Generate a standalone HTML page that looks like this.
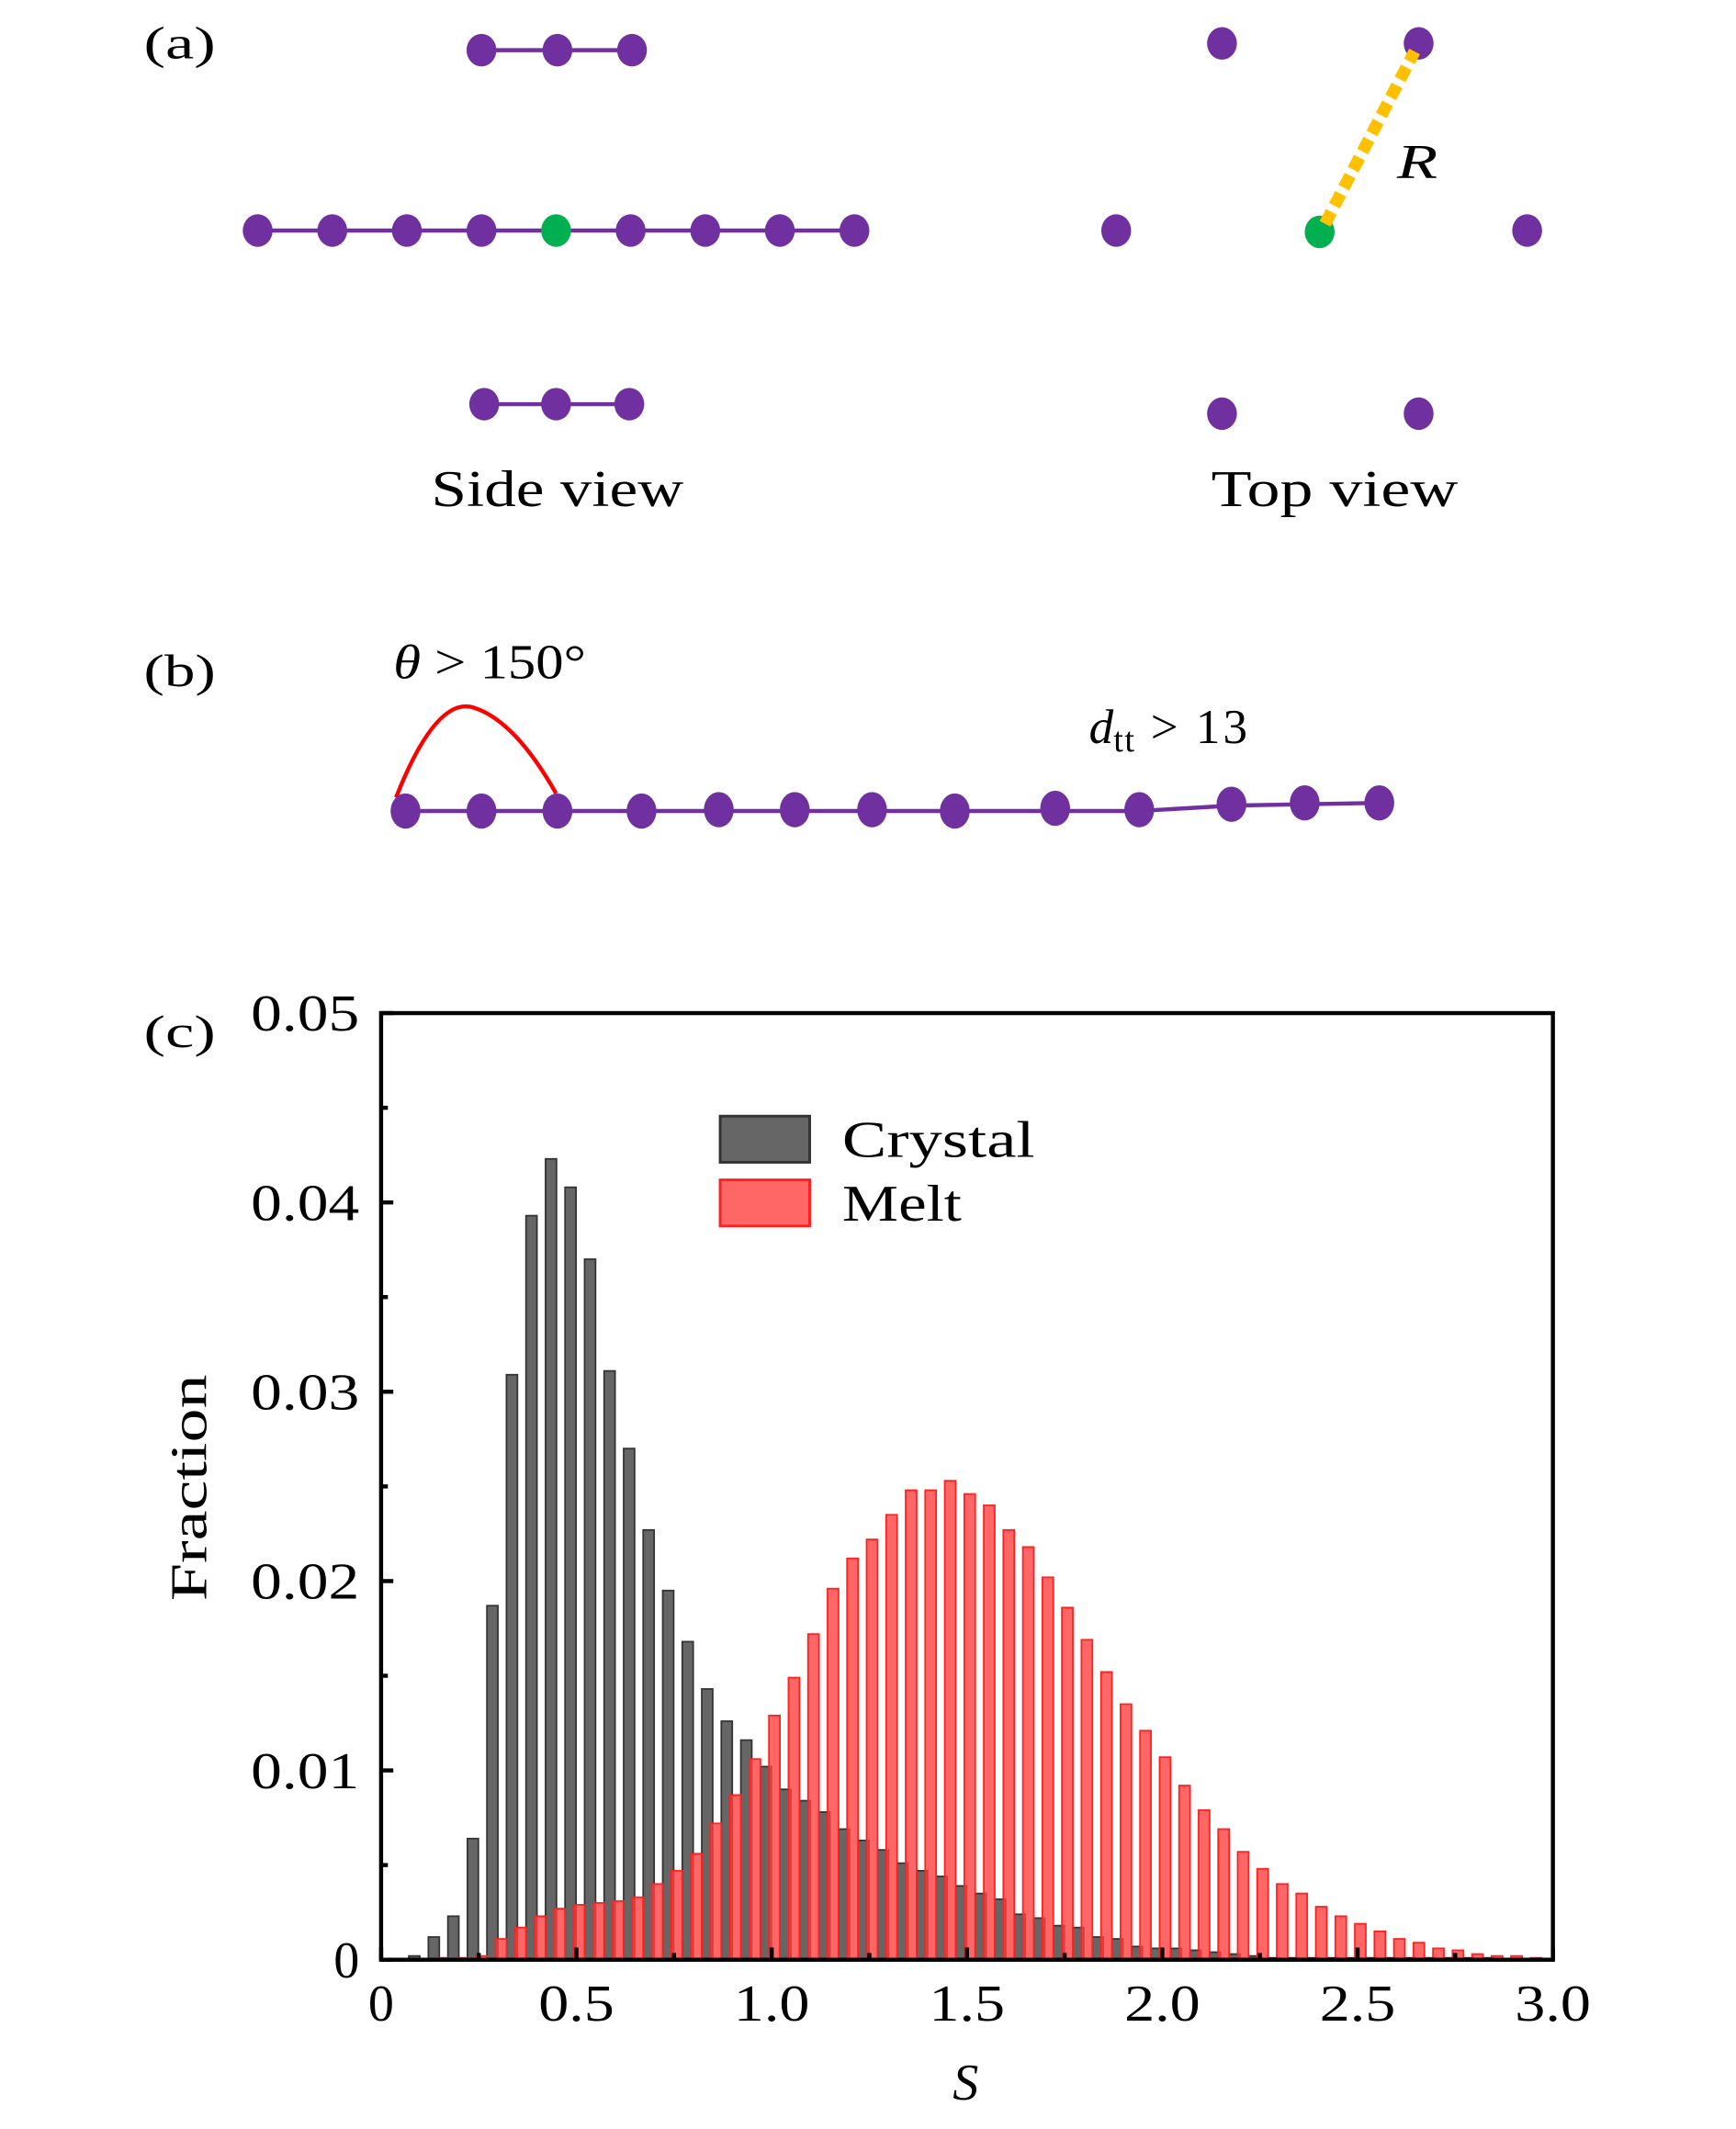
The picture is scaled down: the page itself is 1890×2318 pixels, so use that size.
<!DOCTYPE html>
<html><head><meta charset="utf-8"><style>
html,body{margin:0;padding:0;background:#fff;}
svg{display:block;}
text{font-family:"Liberation Serif",serif;fill:#000;}
</style></head><body>
<svg id="fig" width="1890" height="2318" viewBox="0 0 1280 1569.8" preserveAspectRatio="none" xmlns="http://www.w3.org/2000/svg">
<g>
<text x="106" y="43" font-size="34" textLength="53" lengthAdjust="spacingAndGlyphs">(a)</text>
<g fill="#7030a0" stroke="#7030a0">
<line x1="355" y1="37" x2="466" y2="37" stroke-width="3"/>
<line x1="190" y1="170" x2="630" y2="170" stroke-width="3"/>
<line x1="357" y1="298" x2="464" y2="298" stroke-width="3"/>
<g stroke="none">
<ellipse cx="355" cy="37" rx="11" ry="12"/><ellipse cx="411" cy="37" rx="11" ry="12"/><ellipse cx="466" cy="37" rx="11" ry="12"/>
<ellipse cx="190" cy="170" rx="11" ry="12"/><ellipse cx="245" cy="170" rx="11" ry="12"/><ellipse cx="300" cy="170" rx="11" ry="12"/><ellipse cx="355" cy="170" rx="11" ry="12"/><ellipse cx="410" cy="170" rx="11" ry="12" fill="#00b050"/><ellipse cx="465" cy="170" rx="11" ry="12"/><ellipse cx="520" cy="170" rx="11" ry="12"/><ellipse cx="575" cy="170" rx="11" ry="12"/><ellipse cx="630" cy="170" rx="11" ry="12"/>
<ellipse cx="357" cy="298" rx="11" ry="12"/><ellipse cx="410" cy="298" rx="11" ry="12"/><ellipse cx="464" cy="298" rx="11" ry="12"/>
</g></g>
<text x="318" y="373" font-size="38" textLength="186" lengthAdjust="spacingAndGlyphs">Side view</text>
<g fill="#7030a0">
<ellipse cx="901" cy="32" rx="11" ry="12"/><ellipse cx="1046" cy="32" rx="11" ry="12"/>
<ellipse cx="823" cy="170" rx="11" ry="12"/><ellipse cx="1126" cy="170" rx="11" ry="12"/>
<ellipse cx="973" cy="171" rx="11" ry="12" fill="#00b050"/>
<ellipse cx="901" cy="305" rx="11" ry="12"/><ellipse cx="1046" cy="305" rx="11" ry="12"/>
<line x1="977" y1="165" x2="1043" y2="38" stroke="#ffc000" stroke-width="9" stroke-dasharray="10,5"/>
</g>
<text x="1030" y="131" font-size="36" font-style="italic" textLength="30" lengthAdjust="spacingAndGlyphs">R</text>
<text x="893" y="373" font-size="38" textLength="182" lengthAdjust="spacingAndGlyphs">Top view</text>
</g>
<g>
<text x="106" y="506" font-size="34" textLength="53" lengthAdjust="spacingAndGlyphs">(b)</text>
<text x="290" y="500" font-size="36" textLength="142" lengthAdjust="spacingAndGlyphs"><tspan font-style="italic">θ</tspan> &gt; 150°</text>
<path d="M292,588 Q322,512 350,522 Q380,532 410,585" fill="none" stroke="#ff0000" stroke-width="3"/>
<text x="803" y="548" font-size="36"><tspan font-style="italic">d</tspan><tspan font-size="26" dy="6" letter-spacing="1">tt</tspan><tspan dy="-6" letter-spacing="2"> &gt; 13</tspan></text>
<g fill="#7030a0">
<polyline points="299,598 840,598 908,594 1017,592" fill="none" stroke="#7030a0" stroke-width="3"/>
<ellipse cx="299" cy="598" rx="11" ry="13"/><ellipse cx="355" cy="598" rx="11" ry="13"/><ellipse cx="411" cy="598" rx="11" ry="13"/><ellipse cx="473" cy="598" rx="11" ry="13"/><ellipse cx="530" cy="597" rx="11" ry="13"/><ellipse cx="586" cy="597" rx="11" ry="13"/><ellipse cx="643" cy="597" rx="11" ry="13"/><ellipse cx="704" cy="598" rx="11" ry="13"/><ellipse cx="778" cy="596" rx="11" ry="13"/><ellipse cx="840" cy="597" rx="11" ry="13"/><ellipse cx="908" cy="593" rx="11" ry="13"/><ellipse cx="962" cy="592" rx="11" ry="13"/><ellipse cx="1017" cy="592" rx="11" ry="13"/>
</g>
</g>
<g>
<text x="106" y="772" font-size="34" textLength="53" lengthAdjust="spacingAndGlyphs">(c)</text>
<g id="bars"></g>
<g id="axes"></g>
<text x="0" y="0" font-size="38" text-anchor="middle" textLength="167" lengthAdjust="spacingAndGlyphs" transform="translate(152,1097) rotate(-90)">Fraction</text>
<text x="712" y="1548" font-size="38" font-style="italic" text-anchor="middle">S</text>
<g>
<rect x="531" y="823" width="66" height="34" fill="#666" stroke="#333" stroke-width="2"/>
<text x="621" y="853" font-size="38" textLength="142" lengthAdjust="spacingAndGlyphs">Crystal</text>
<rect x="531" y="870" width="66" height="34" fill="#ff6666" stroke="#ff2020" stroke-width="2"/>
<text x="621" y="900" font-size="38" textLength="88" lengthAdjust="spacingAndGlyphs">Melt</text>
</g>
</g>
</svg>
<script>
const crystalStart = 0.085;
const meltStart = 0.107;
const binWidth = 0.05;
const crystalValues = [0.0002,0.0012,0.0023,0.0064,0.0187,0.0309,0.0393,0.0423,0.0408,0.0370,0.0311,0.0270,0.0227,0.0195,0.0168,0.0143,0.0126,0.0116,0.0102,0.0090,0.0084,0.0078,0.0069,0.0063,0.0058,0.0051,0.0047,0.0044,0.0039,0.0035,0.0032,0.0024,0.0022,0.0018,0.0017,0.0012,0.0011,0.0007,0.0006,0.0006,0.0005,0.0004,0.0003,0.0002,0.0001,0.0001,0.0001,0.0001,0.0001,0.0001,0.0001,0.0001,0.0001,0.0001,0.0001,0.0001];
const meltValues = [0,0.0001,0.0001,0.0002,0.0011,0.0017,0.0023,0.0027,0.0029,0.0030,0.0031,0.0033,0.0040,0.0047,0.0056,0.0072,0.0087,0.0106,0.0129,0.0149,0.0172,0.0196,0.0212,0.0222,0.0235,0.0248,0.0248,0.0253,0.0246,0.0240,0.0227,0.0218,0.0202,0.0186,0.0169,0.0152,0.0135,0.0121,0.0107,0.0092,0.0079,0.0069,0.0057,0.0048,0.0040,0.0035,0.0028,0.0023,0.0019,0.0015,0.0011,0.0009,0.0006,0.0005,0.0003,0.0002,0.0002,0.0001];
const xTickLabels = ["0","0.5","1.0","1.5","2.0","2.5","3.0"];
const xTickValues = [0,0.5,1.0,1.5,2.0,2.5,3.0];
const yTickLabels = ["0","0.01","0.02","0.03","0.04","0.05"];
const yTickValues = [0,0.01,0.02,0.03,0.04,0.05];

const NS = "http://www.w3.org/2000/svg";
const X0=281, X1=1145, Y0=1445, Y1=747;
function xs(v){return X0+(X1-X0)*v/3;}
function ys(v){return Y0-(Y0-Y1)*v/0.05;}
function mk(tag, attrs, parent){const e=document.createElementNS(NS,tag);for(const k in attrs)e.setAttribute(k,attrs[k]);parent.appendChild(e);return e;}
const bars=document.getElementById('bars'), axes=document.getElementById('axes');
const bw=(xs(0.028)-xs(0));
crystalValues.forEach((v,i)=>{
  const c=crystalStart+i*binWidth;
  const r=mk('rect',{x:xs(c)-bw/2,y:ys(v),width:bw,height:Y0-ys(v),fill:'#666',stroke:'#333','stroke-width':1.2},bars);
  
  
});
meltValues.forEach((v,i)=>{
  const c=meltStart+i*binWidth;
  if(c>3.02) return;
  const r=mk('rect',{x:xs(c)-bw/2,y:ys(v),width:bw,height:Y0-ys(v),fill:'#ff4040','fill-opacity':0.8,stroke:'#ff2020','stroke-width':1.2},bars);
  
  
});
const frame=mk('rect',{x:X0,y:Y1,width:X1-X0,height:Y0-Y1,fill:'none',stroke:'#000','stroke-width':3},axes);


for(let i=0;i<=12;i++){const v=i*0.25;const len=(i%2==0)?9:5;
  mk('line',{x1:xs(v),y1:Y0,x2:xs(v),y2:Y0-len,stroke:'#000','stroke-width':3},axes);}
for(let i=0;i<=10;i++){const v=i*0.005;const len=(i%2==0)?9:5;
  mk('line',{x1:X0,y1:ys(v),x2:X0+len,y2:ys(v),stroke:'#000','stroke-width':3},axes);}
xTickValues.forEach((v,i)=>{
  const lab=xTickLabels[i];
  const t=mk('text',{x:xs(v),y:1490,'font-size':38,'text-anchor':'middle'},axes);
  if(lab.length>1){t.setAttribute('textLength',56);t.setAttribute('lengthAdjust','spacingAndGlyphs');}
  t.textContent=lab;
  
  
});
yTickValues.forEach((v,i)=>{
  const lab=yTickLabels[i];
  const t=mk('text',{x:265,y:ys(v)+13,'font-size':38,'text-anchor':'end'},axes);
  if(lab.length>1){t.setAttribute('textLength',80);t.setAttribute('lengthAdjust','spacingAndGlyphs');}
  t.textContent=lab;
  
  
});
</script>
</body></html>
